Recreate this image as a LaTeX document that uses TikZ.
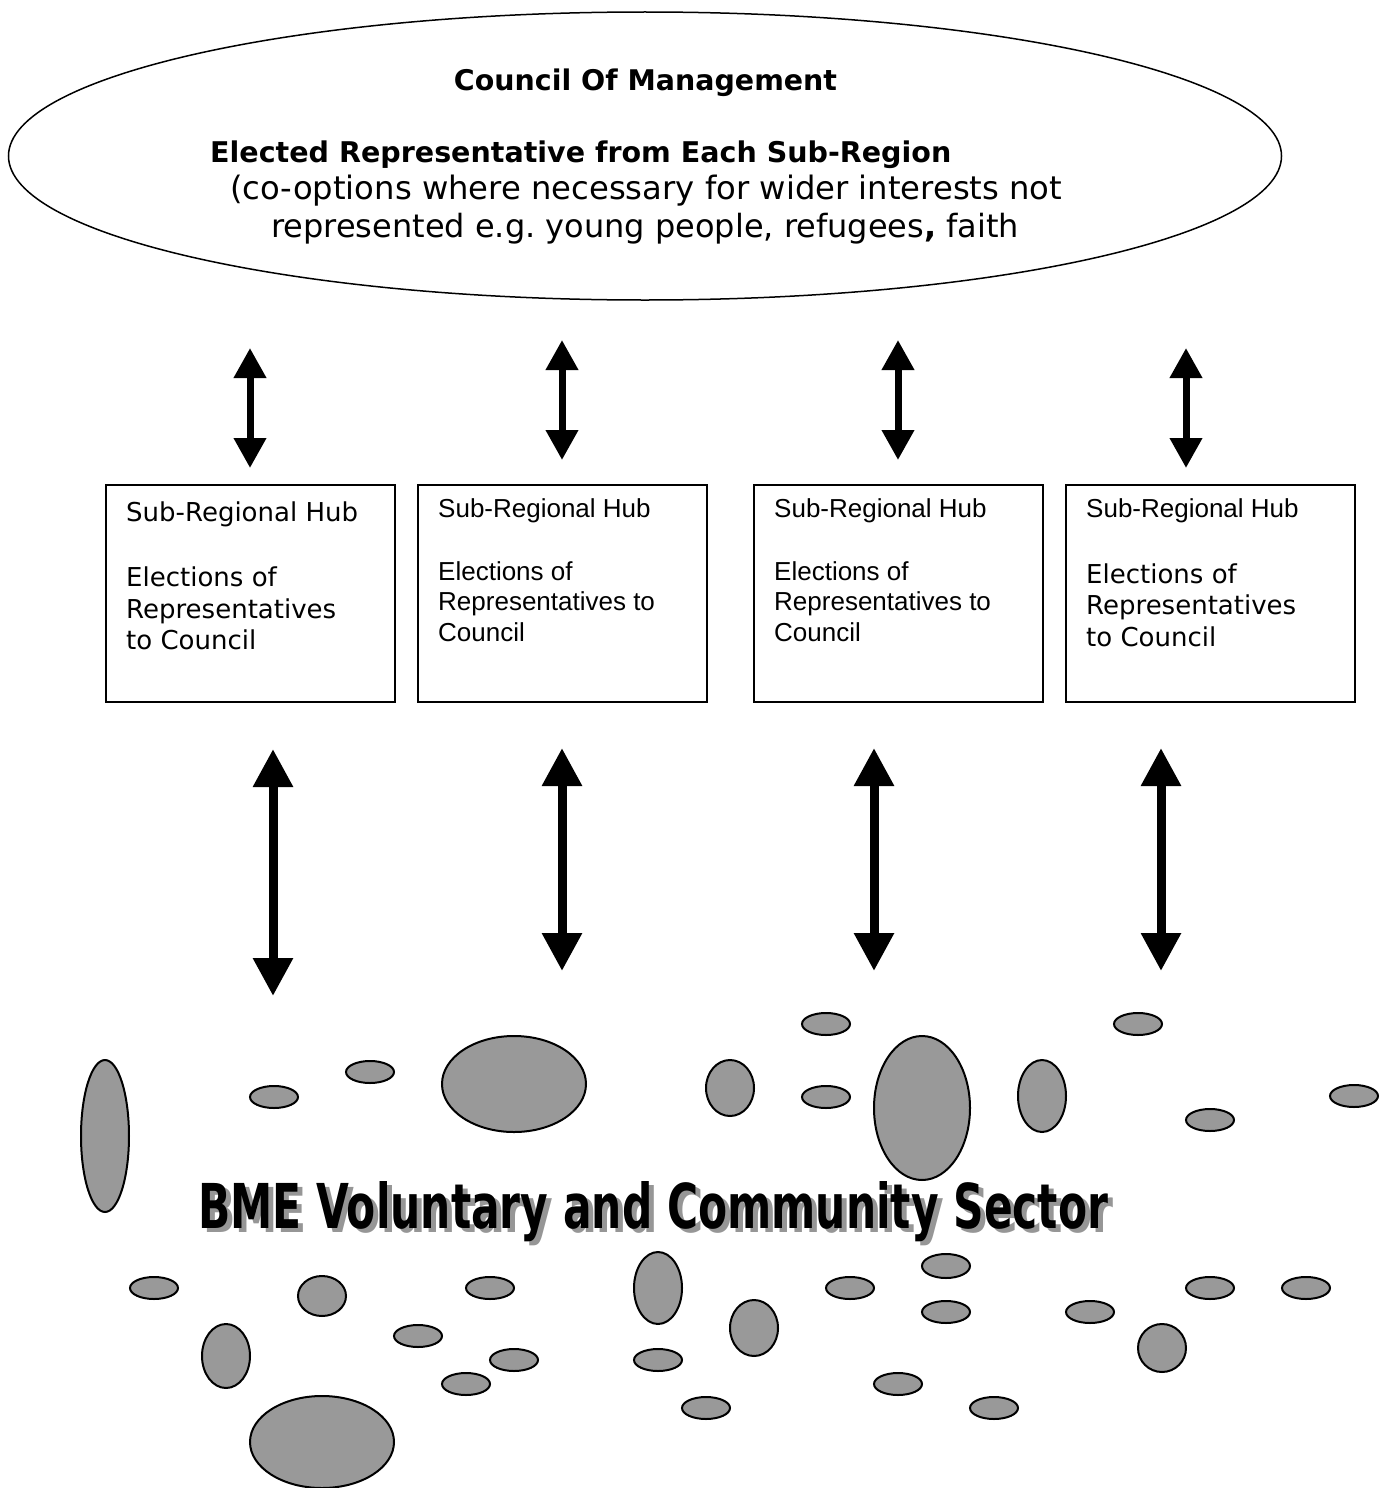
\documentclass[tikz,border=0pt]{standalone}
\usepackage{fontspec}
\setmainfont{DejaVu Sans}
\newfontfamily\arialfont{Liberation Sans}
\usetikzlibrary{arrows.meta,shapes.geometric}
\definecolor{blobgray}{RGB}{153,153,153}
\definecolor{shadowgray}{RGB}{150,150,150}
\newcommand\bmelabel{\resizebox{910pt}{47pt}{\bfseries BME Voluntary and Community Sector}}
\newcommand\bmeshadowed{\rlap{\hspace{5pt}\raisebox{-4pt}{\color{shadowgray}\bmelabel}}\bmelabel}
\frenchspacing

\begin{document}
\begin{tikzpicture}[x=1pt,y=-1pt,
  hub/.style={draw, line width=1.5pt, minimum width=289pt, minimum height=217pt,
              anchor=north west, inner sep=0pt},
  vtxt/.style={anchor=base west, inner sep=0pt, font=\fontsize{26}{30}\selectfont},
  atxt/.style={anchor=base west, inner sep=0pt, font=\arialfont\fontsize{26}{30}\selectfont},
  headtxt/.style={inner sep=0pt},
  blob/.style={ellipse, draw, line width=2pt, fill=blobgray, inner sep=0pt},
  thinarrow/.style={line width=7pt, {Triangle[width=31pt,length=30pt]}-{Triangle[width=31pt,length=30pt]}},
  thickarrow/.style={line width=9pt, {Triangle[width=38pt,length=38pt]}-{Triangle[width=38pt,length=38pt]}}
]
\useasboundingbox (0,0) rectangle (1387,1488);

% Council of Management
\node[ellipse, draw, line width=1.5pt, minimum width=1273pt, minimum height=288pt, inner sep=0pt]
  (council) at (645,156) {};
\node[headtxt, anchor=base] (ctitle) at (645.5,90)
  {\resizebox{383pt}{!}{\bfseries Council Of Management}};
\node[headtxt, anchor=base west] (celected) at (210,162)
  {\resizebox{741pt}{!}{\bfseries Elected Representative from Each Sub-Region}};
\node[headtxt, anchor=base west] (ccoopt) at (230,199)
  {\resizebox{832pt}{!}{(co-options where necessary for wider interests not}};
\node[headtxt, anchor=base west] (crep) at (271,237)
  {\resizebox{748pt}{!}{represented e.g. young people, refugees\textbf{,} faith}};

% Sub-regional hubs
\node[hub] (hub1) at (105,484) {};
\node[hub] (hub2) at (417,484) {};
\node[hub] (hub3) at (753,484) {};
\node[hub] (hub4) at (1065,484) {};

\node[vtxt] (h1a) at (126,521) {Sub-Regional Hub};
\node[vtxt] (h1b) at (126,586) {Elections of};
\node[vtxt] (h1c) at (126,618) {Representatives};
\node[vtxt] (h1d) at (126,649) {to Council};

\node[atxt] (h2a) at (438,517) {Sub-Regional Hub};
\node[atxt] (h2b) at (438,580) {Elections of};
\node[atxt] (h2c) at (438,610) {Representatives to};
\node[atxt] (h2d) at (438,641) {Council};

\node[atxt] (h3a) at (774,517) {Sub-Regional Hub};
\node[atxt] (h3b) at (774,580) {Elections of};
\node[atxt] (h3c) at (774,610) {Representatives to};
\node[atxt] (h3d) at (774,641) {Council};

\node[atxt] (h4a) at (1086,517) {Sub-Regional Hub};
\node[vtxt] (h4b) at (1086,583) {Elections of};
\node[vtxt] (h4c) at (1086,614) {Representatives};
\node[vtxt] (h4d) at (1086,646) {to Council};

% arrows between council and hubs
\coordinate (u1t) at (250,348);  \coordinate (u1b) at (250,468);
\coordinate (u2t) at (562,340);  \coordinate (u2b) at (562,460);
\coordinate (u3t) at (898,340);  \coordinate (u3b) at (898,460);
\coordinate (u4t) at (1186,348); \coordinate (u4b) at (1186,468);
\draw[thinarrow] (u1t) -- (u1b);
\draw[thinarrow] (u2t) -- (u2b);
\draw[thinarrow] (u3t) -- (u3b);
\draw[thinarrow] (u4t) -- (u4b);

% arrows between hubs and the sector
\coordinate (l1t) at (273,749);  \coordinate (l1b) at (273,996);
\coordinate (l2t) at (562,748);  \coordinate (l2b) at (562,971);
\coordinate (l3t) at (874,748);  \coordinate (l3b) at (874,971);
\coordinate (l4t) at (1161,748); \coordinate (l4b) at (1161,971);
\draw[thickarrow] (l1t) -- (l1b);
\draw[thickarrow] (l2t) -- (l2b);
\draw[thickarrow] (l3t) -- (l3b);
\draw[thickarrow] (l4t) -- (l4b);

% community organisations
\foreach \x/\y/\w/\h [count=\i] in {
  105/1136/48/152, 274/1097/48/22, 370/1072/48/22, 514/1084/144/96,
  730/1088/48/56, 826/1024/48/22, 826/1097/48/22, 922/1108/96/144,
  1042/1096/48/72, 1138/1024/48/22, 1210/1120/48/22, 1354/1096/48/22,
  154/1288/48/22, 322/1296/48/40, 490/1288/48/22, 658/1288/48/72,
  850/1288/48/22, 946/1266/48/24, 946/1312/48/22, 1090/1312/48/22,
  1210/1288/48/22, 1306/1288/48/22, 418/1336/48/22, 226/1356/48/64,
  514/1360/48/22, 754/1328/48/56, 658/1360/48/22, 466/1384/48/22,
  1162/1348/48/48, 898/1384/48/22, 706/1408/48/22, 994/1408/48/22,
  322/1442/144/92}
  \node[blob, minimum width=\w pt, minimum height=\h pt] (org\i) at (\x,\y) {};

% sector label with drop shadow
\node[anchor=base west, inner sep=0pt] (bme) at (198,1228) {\bmeshadowed};
\end{tikzpicture}
\end{document}
